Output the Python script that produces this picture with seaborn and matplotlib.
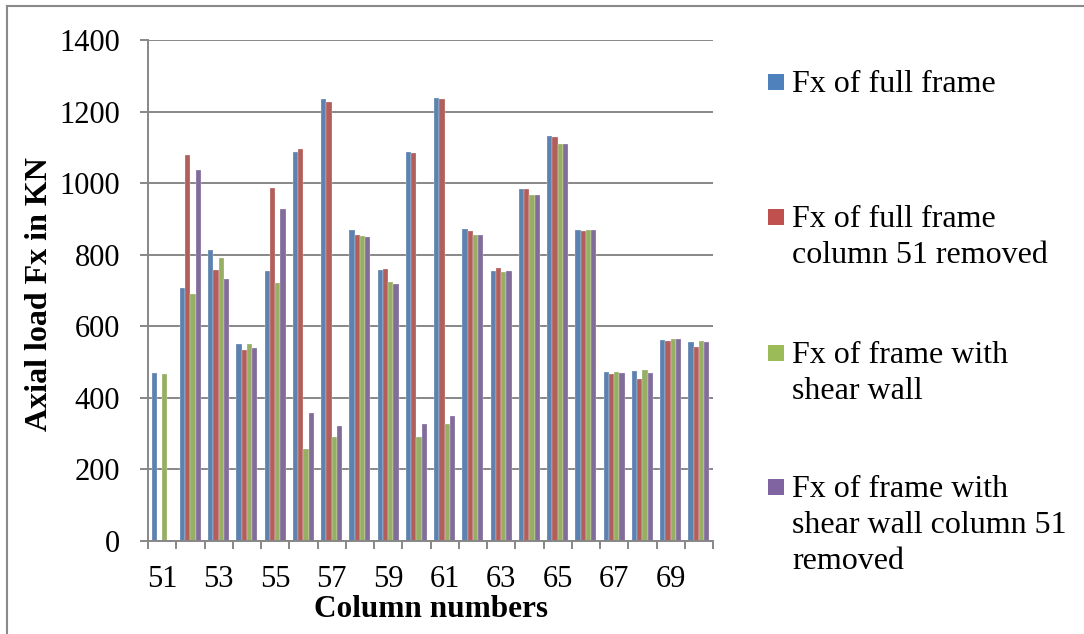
import numpy as np
import pandas as pd
import matplotlib
matplotlib.use("Agg")
import matplotlib.pyplot as plt
import seaborn as sns
from matplotlib.patches import Rectangle
from matplotlib.lines import Line2D

# ---------------- data ----------------
columns = [str(c) for c in range(51, 71)]
fx_full = [470, 707, 812, 550, 755, 1087, 1234, 869, 756, 1087,
           1238, 872, 754, 984, 1132, 870, 473, 476, 562, 555]
fx_full_removed = [0, 1079, 756, 535, 987, 1095, 1226, 854, 759, 1084,
                   1235, 865, 763, 983, 1130, 865, 466, 454, 558, 541]
fx_wall = [468, 689, 790, 551, 721, 258, 290, 852, 725, 292,
           327, 855, 751, 966, 1110, 870, 473, 479, 564, 558]
fx_wall_removed = [0, 1037, 733, 538, 928, 359, 321, 850, 719, 327,
                   350, 855, 754, 966, 1110, 870, 469, 470, 564, 555]
series_labels = ["Fx of full frame",
                 "Fx of full frame\ncolumn 51 removed",
                 "Fx of frame with\nshear wall",
                 "Fx of frame with\nshear wall column 51\nremoved"]
tick_labels = ["51", "53", "55", "57", "59", "61", "63", "65", "67", "69"]
y_ticks = [0, 200, 400, 600, 800, 1000, 1200, 1400]
x_title = "Column numbers"
y_title = "Axial load Fx in KN"

colors = ["#4F81BD", "#C0504D", "#9BBB59", "#8064A2"]
grid_gray = "#878787"

df = pd.concat([
    pd.DataFrame({"column": columns, "fx": vals, "series": lab})
    for vals, lab in zip([fx_full, fx_full_removed, fx_wall, fx_wall_removed], series_labels)
], ignore_index=True)

# ---------------- figure ----------------
plt.rcParams["font.family"] = ["Liberation Serif", "DejaVu Serif"]
W, H = 1084, 634
fig = plt.figure(figsize=(W / 100, H / 100), dpi=100)
ax = fig.add_axes([148 / W, 1 - 541 / H, (713 - 148) / W, (541 - 40) / H])

sns.barplot(data=df, x="column", y="fx", hue="series", order=columns,
            hue_order=series_labels, palette=colors, width=0.74, gap=0,
            errorbar=None, edgecolor=(1, 1, 1, 0.55), linewidth=0.35,
            legend=False, ax=ax)

ax.set_xlim(-0.5, len(columns) - 0.5)
ax.set_ylim(0, 1400)
ax.set_yticks(y_ticks)
ax.set_yticklabels([str(v) for v in y_ticks])
ax.yaxis.grid(True, color=grid_gray, linewidth=1.4)
ax.set_axisbelow(True)

major_pos = [columns.index(t) for t in tick_labels]
ax.set_xticks(major_pos)
ax.set_xticklabels(tick_labels)
ax.set_xticks(np.arange(-0.5, len(columns), 1.0), minor=True)
ax.tick_params(axis="x", which="major", length=0, pad=17, labelsize=22, colors="black")
ax.tick_params(axis="x", which="minor", length=6, width=1.4, color=grid_gray, direction="out")
ax.tick_params(axis="y", which="major", length=6, width=1.4, color=grid_gray,
               pad=14, labelsize=22, labelcolor="black")

for side in ["top", "right"]:
    ax.spines[side].set_visible(False)
for side in ["left", "bottom"]:
    ax.spines[side].set_color(grid_gray)
    ax.spines[side].set_linewidth(1.4)

ax.set_xlabel(x_title, fontsize=22.5, fontweight="bold")
ax.set_ylabel(y_title, fontsize=23, fontweight="bold")
ax.xaxis.set_label_coords(0.5, -0.108)
ax.yaxis.set_label_coords(-0.166, 0.493)

# ---------------- legend (drawn manually, Excel-like layout) ----------------
sq_x, sq_size, txt_x = 768, 16, 792
first_baselines = [92, 227, 363, 497]
line_step = 36
for lab, col, b0 in zip(series_labels, colors, first_baselines):
    cy = b0 - 10
    fig.patches.append(Rectangle(((sq_x) / W, 1 - (cy + sq_size / 2) / H),
                                 sq_size / W, sq_size / H,
                                 transform=fig.transFigure, facecolor=col,
                                 edgecolor="none"))
    for i, line in enumerate(lab.split("\n")):
        fig.text(txt_x / W, 1 - (b0 + i * line_step) / H, line,
                 fontsize=23, va="baseline", ha="left", color="black")

# outer chart border (top and left visible)
fig.lines.append(Line2D([7 / W, 7 / W], [0, 1 - 6 / H], transform=fig.transFigure,
                        color="#8a8a8a", linewidth=1.5))
fig.lines.append(Line2D([7 / W, 1], [1 - 6 / H, 1 - 6 / H], transform=fig.transFigure,
                        color="#8a8a8a", linewidth=1.5))

fig.savefig("out.png", dpi=100)
